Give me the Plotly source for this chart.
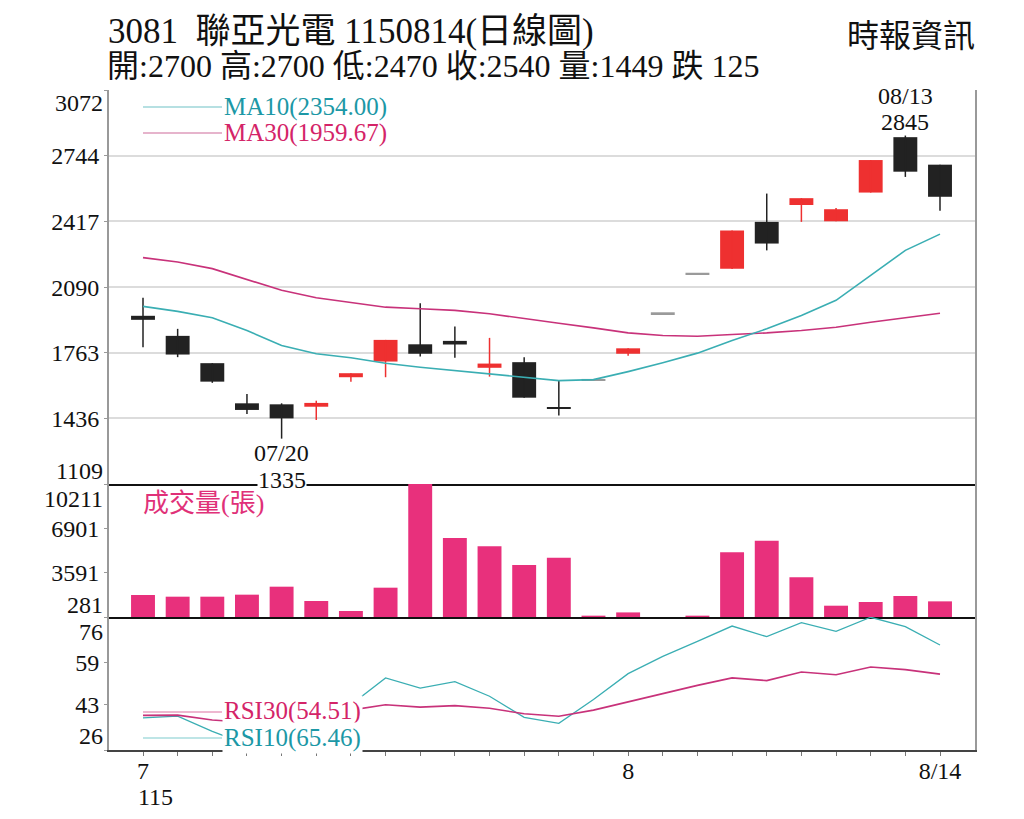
import plotly.graph_objects as go

# ---------------- data ----------------
dates = ["07/14", "07/15", "07/16", "07/17", "07/20", "07/21", "07/22", "07/23",
         "07/24", "07/27", "07/28", "07/29", "07/30", "07/31", "08/03", "08/04",
         "08/05", "08/06", "08/07", "08/10", "08/11", "08/12", "08/13", "08/14"]
open_ = [1947, 1847, 1711, 1511, 1506, 1494, 1641, 1719, 1805, 1822, 1688, 1716,
         1488, 1628, 1758, 1960, 2157, 2182, 2415, 2499, 2418, 2561, 2837, 2700]
high = [2037, 1882, 1711, 1558, 1511, 1524, 1661, 1827, 2010, 1894, 1837, 1741,
        1624, 1628, 1785, 1960, 2157, 2372, 2556, 2533, 2484, 2723, 2845, 2700]
low = [1790, 1741, 1613, 1458, 1335, 1428, 1619, 1641, 1744, 1738, 1644, 1539,
       1450, 1628, 1748, 1960, 2157, 2180, 2273, 2415, 2418, 2561, 2639, 2470]
close = [1927, 1754, 1619, 1478, 1436, 1513, 1661, 1827, 1758, 1804, 1709, 1539,
         1488, 1628, 1785, 1960, 2157, 2372, 2307, 2533, 2478, 2723, 2665, 2540]
volume = [1923, 1798, 1798, 1948, 2545, 1476, 729, 2470, 10211, 6179, 5559, 4163,
          4709, 380, 624, 281, 380, 5111, 5978, 3245, 1125, 1401, 1849, 1449]
ma10 = [1994, 1969, 1937, 1874, 1799, 1758, 1738, 1711, 1691, 1674, 1658, 1641,
        1624, 1629, 1669, 1713, 1761, 1824, 1882, 1949, 2024, 2148, 2273, 2354.00]
ma30 = [2237, 2215, 2182, 2127, 2074, 2037, 2012, 1990, 1982, 1974, 1957, 1932,
        1910, 1887, 1862, 1849, 1845, 1854, 1862, 1874, 1890, 1915, 1937, 1959.67]
rsi10 = [38.1, 38.7, 33.0, 28.0, 26.0, 30.0, 43.0, 53.1, 49.3, 51.7, 46.2, 38.3,
         36.0, 45.0, 54.7, 61.2, 66.8, 72.6, 68.6, 73.9, 70.6, 75.9, 72.4, 65.46]
rsi30 = [39.0, 39.1, 37.3, 36.5, 35.5, 36.5, 41.0, 43.0, 42.1, 42.7, 41.7, 39.6,
         38.7, 41.0, 44.0, 47.2, 50.3, 53.1, 52.1, 55.3, 54.3, 57.2, 56.2, 54.51]

price_ticks = [1109, 1436, 1763, 2090, 2417, 2744, 3072]
vol_ticks = [281, 3591, 6901, 10211]
rsi_ticks = [26, 43, 59, 76]
month_labels = {0: "7", 14: "8", 23: "8/14"}
year_label = "115"
stock_title = "3081\u00a0\u00a0聯亞光電 1150814(日線圖)"
source_label = "時報資訊"

# ---------------- styles ----------------
FONT = "Liberation Serif, Noto Sans CJK TC, serif"
RED = "#EE3030"
BLACK = "#222222"
GRAY = "#9A9A9A"
PINK = "#E8307C"
MA10_C = "#3AAEB3"
MA30_C = "#C8327A"
TXT_TEAL = "#1C98A6"
TXT_PINK = "#D42468"

W, H = 1024, 819
L, R, T, B = 109, 975, 90, 750
n = len(dates)
idx = list(range(n))
step = (940 - 143) / (n - 1)
x_range = [-(143 - L) / step, (n - 1) + (R - 940) / step]

def fy(py):
    return (B - py) / (B - T)

def fx(px):
    return (px - L) / (R - L)

price_dom = [fy(484), 1.0]
vol_dom = [fy(617), fy(484)]
rsi_dom = [0.0, fy(617)]

fig = go.Figure()

# ---------------- candles ----------------
def kind(i):
    if open_[i] == high[i] == low[i] == close[i]:
        return "gray"
    return "red" if close[i] > open_[i] else "black"

colmap = {"red": RED, "black": BLACK, "gray": GRAY}
for k, c in colmap.items():
    xs, ys = [], []
    for i in idx:
        if kind(i) == k and high[i] > low[i]:
            xs += [i, i, None]
            ys += [low[i], high[i], None]
    if xs:
        fig.add_trace(go.Scatter(x=xs, y=ys, mode="lines", line=dict(color=c, width=1.5),
                                 hoverinfo="skip", xaxis="x", yaxis="y"))

min_body = 9
bases, heights, bcolors = [], [], []
for i in idx:
    lo, hi = min(open_[i], close[i]), max(open_[i], close[i])
    h = hi - lo
    if h < min_body:
        mid = (lo + hi) / 2
        lo, h = mid - min_body / 2, min_body
    bases.append(lo)
    heights.append(h)
    bcolors.append(colmap[kind(i)])
fig.add_trace(go.Bar(x=idx, y=heights, base=bases, width=0.69,
                     marker=dict(color=bcolors, line=dict(width=0)),
                     hoverinfo="skip", xaxis="x", yaxis="y"))

fig.add_trace(go.Scatter(x=idx, y=ma30, mode="lines", line=dict(color=MA30_C, width=1.6),
                         hoverinfo="skip", xaxis="x", yaxis="y"))
fig.add_trace(go.Scatter(x=idx, y=ma10, mode="lines", line=dict(color=MA10_C, width=1.6),
                         hoverinfo="skip", xaxis="x", yaxis="y"))

# ---------------- volume ----------------
fig.add_trace(go.Bar(x=idx, y=volume, width=0.69, marker=dict(color=PINK, line=dict(width=0)),
                     hoverinfo="skip", xaxis="x2", yaxis="y2"))

# ---------------- RSI ----------------
fig.add_trace(go.Scatter(x=idx, y=rsi10, mode="lines", line=dict(color=MA10_C, width=1.3),
                         hoverinfo="skip", xaxis="x3", yaxis="y3"))
fig.add_trace(go.Scatter(x=idx, y=rsi30, mode="lines", line=dict(color=MA30_C, width=1.6),
                         hoverinfo="skip", xaxis="x3", yaxis="y3"))

# ---------------- axes ----------------
tickfont = dict(family=FONT, size=24, color="#111111")
common_x = dict(range=x_range, showgrid=False, zeroline=False, showline=True,
                linecolor="#111111", linewidth=1.5, fixedrange=True)
ytxt = lambda ticks: [""] + [str(t) for t in ticks[1:-1]] + [""]
common_y = dict(showline=True, linecolor="#999999", linewidth=2, mirror=True, zeroline=False,
                ticks="outside", ticklen=3, tickcolor="#999999", tickfont=tickfont,
                fixedrange=True)

fig.update_layout(
    width=W, height=H,
    margin=dict(l=L, r=W - R, t=T, b=H - B),
    paper_bgcolor="white", plot_bgcolor="white",
    showlegend=False, barmode="overlay",
    xaxis=dict(common_x, domain=[0, 1], anchor="y", showticklabels=False, ticks=""),
    xaxis2=dict(common_x, domain=[0, 1], anchor="y2", showticklabels=False, ticks=""),
    xaxis3=dict(common_x, domain=[0, 1], anchor="y3", linecolor="#444444",
                tickvals=idx, ticktext=[month_labels.get(i, "") for i in idx],
                ticks="outside", ticklen=4, tickcolor="#777777", tickfont=tickfont,
                ticklabelstandoff=-6),
    yaxis=dict(common_y, domain=price_dom, range=[price_ticks[0], price_ticks[-1]],
               tickvals=price_ticks, ticktext=ytxt(price_ticks),
               showgrid=True, gridcolor="#DCDCDC", gridwidth=1.5),
    yaxis2=dict(common_y, domain=vol_dom, range=[vol_ticks[0], vol_ticks[-1]],
                tickvals=vol_ticks, ticktext=ytxt(vol_ticks), showgrid=False),
    yaxis3=dict(common_y, domain=rsi_dom, range=[rsi_ticks[0], rsi_ticks[-1]],
                tickvals=rsi_ticks, ticktext=ytxt(rsi_ticks), showgrid=False),
)

ann = []
# extreme axis labels (shifted inside panel)
for yref, val, shift in [("y", price_ticks[-1], -13), ("y", price_ticks[0], 13),
                         ("y2", vol_ticks[-1], -15), ("y2", vol_ticks[0], 12),
                         ("y3", rsi_ticks[-1], -15), ("y3", rsi_ticks[0], 14)]:
    ann.append(dict(xref="paper", x=0, xshift=-4, xanchor="right", yref=yref, y=val,
                    yshift=shift, yanchor="middle", text=str(val), showarrow=False,
                    font=tickfont))

# year label under month
ann.append(dict(xref="x3", x=0, xshift=-7, xanchor="left", yref="paper", y=fy(797),
                yanchor="middle", text=year_label, showarrow=False, font=tickfont))

# titles
ann.append(dict(xref="paper", yref="paper", x=fx(106), y=fy(31), xanchor="left", yanchor="middle",
                text=stock_title, showarrow=False,
                font=dict(family=FONT, size=35, color="#111111")))
chg = close[-1] - close[-2]
chg_txt = ("漲 " if chg > 0 else "跌 ") + str(abs(chg))
line2 = (f"開:{open_[-1]} 高:{high[-1]} 低:{low[-1]} 收:{close[-1]} "
         f"量:{volume[-1]} {chg_txt}")
ann.append(dict(xref="paper", yref="paper", x=fx(105), y=fy(66), xanchor="left", yanchor="middle",
                text=line2, showarrow=False,
                font=dict(family=FONT, size=32, color="#111111")))
ann.append(dict(xref="paper", yref="paper", x=fx(977), y=fy(36), xanchor="right", yanchor="middle",
                text=source_label, showarrow=False,
                font=dict(family=FONT, size=32, color="#111111")))

# high / low markers
hi_i = max(idx, key=lambda i: high[i])
lo_i = min(idx, key=lambda i: low[i])
lblfont = dict(family=FONT, size=24, color="#111111")
ann.append(dict(xref="x", yref="y", x=hi_i, y=high[hi_i], yshift=40, yanchor="middle",
                text=dates[hi_i], showarrow=False, font=lblfont))
ann.append(dict(xref="x", yref="y", x=hi_i, y=high[hi_i], yshift=14, yanchor="middle",
                text=str(high[hi_i]), showarrow=False, font=lblfont))
ann.append(dict(xref="x", yref="y", x=lo_i, y=low[lo_i], yshift=-14, yanchor="middle",
                text=dates[lo_i], showarrow=False, font=lblfont))
ann.append(dict(xref="x", yref="y", x=lo_i, y=low[lo_i], yshift=-41, yanchor="middle",
                text=str(low[lo_i]), showarrow=False, font=lblfont, bgcolor="white",
                borderpad=0))

# legends
legfont = 25
ann.append(dict(xref="paper", yref="paper", x=fx(222), y=fy(107), xanchor="left", yanchor="middle",
                text=f"MA10({ma10[-1]:.2f})", showarrow=False,
                font=dict(family=FONT, size=legfont, color=TXT_TEAL)))
ann.append(dict(xref="paper", yref="paper", x=fx(222), y=fy(133), xanchor="left", yanchor="middle",
                text=f"MA30({ma30[-1]:.2f})", showarrow=False,
                font=dict(family=FONT, size=legfont, color=TXT_PINK)))
ann.append(dict(xref="paper", yref="paper", x=fx(141), y=fy(503), xanchor="left", yanchor="middle",
                text="成交量(張)", showarrow=False,
                font=dict(family=FONT, size=26, color="#E03078")))
ann.append(dict(xref="paper", yref="paper", x=fx(222), y=fy(711), xanchor="left", yanchor="middle",
                text=f"RSI30({rsi30[-1]:.2f})", showarrow=False, bgcolor="white", borderpad=1,
                font=dict(family=FONT, size=legfont, color=TXT_PINK)))
ann.append(dict(xref="paper", yref="paper", x=fx(222), y=fy(738), xanchor="left", yanchor="middle",
                text=f"RSI10({rsi10[-1]:.2f})", showarrow=False, bgcolor="white", borderpad=1,
                font=dict(family=FONT, size=legfont, color=TXT_TEAL)))
fig.update_layout(annotations=ann)

shapes = []
for yy, col in [(107, "#9ED6D8"), (133, "#DE9BBB"), (712, "#E8A0C0"), (738, "#A8DCDE")]:
    shapes.append(dict(type="line", xref="paper", yref="paper", x0=fx(143), x1=fx(222),
                       y0=fy(yy), y1=fy(yy), line=dict(color=col, width=1.3)))
fig.update_layout(shapes=shapes)

fig.write_html("out.html", config={"displayModeBar": False},
               post_script="document.body.style.margin='0';")
